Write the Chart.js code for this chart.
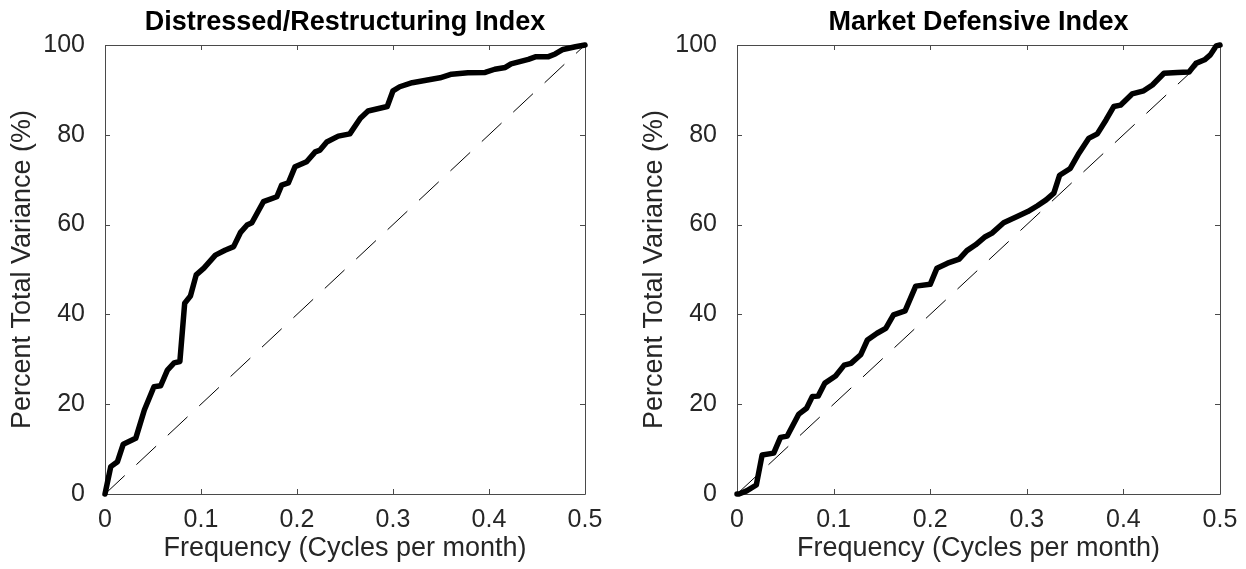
<!DOCTYPE html>
<html>
<head>
<meta charset="utf-8">
<script src="https://cdn.jsdelivr.net/npm/chart.js@4"></script>
<style>
    body { margin: 0; background: #fff; }
    .panel { position: absolute; top: 0; width: 623px; height: 569px; }
    #left { left: 0; }
    #right { left: 623px; }
</style>
</head>
<body>
<div class="panel" id="left"><canvas id="distChart" width="623" height="569"></canvas></div>
<div class="panel" id="right"><canvas id="defChart" width="623" height="569"></canvas></div>
<script>
"use strict";

// Cumulative periodogram, Distressed/Restructuring Index
const distFreq = [0, 0.006, 0.013, 0.019, 0.032, 0.041, 0.051, 0.058, 0.065, 0.072,
    0.078, 0.083, 0.089, 0.095, 0.103, 0.115, 0.125, 0.134, 0.141, 0.148,
    0.153, 0.165, 0.179, 0.184, 0.191, 0.198, 0.210, 0.219, 0.224, 0.231,
    0.243, 0.255, 0.266, 0.274, 0.294, 0.300, 0.307, 0.320, 0.333, 0.349,
    0.361, 0.378, 0.396, 0.406, 0.417, 0.423, 0.441, 0.449, 0.462, 0.469,
    0.477, 0.490, 0.500];
const distVar = [0, 6.1, 7.2, 11.1, 12.4, 18.7, 23.9, 24.1, 27.6, 29.2,
    29.5, 42.5, 44.1, 48.8, 50.3, 53.2, 54.3, 55.1, 58.2, 59.9,
    60.4, 65.1, 66.2, 68.8, 69.3, 72.9, 74.0, 76.2, 76.6, 78.4,
    79.7, 80.2, 83.7, 85.3, 86.3, 89.8, 90.7, 91.6, 92.1, 92.7,
    93.5, 93.8, 93.9, 94.6, 95.0, 95.8, 96.8, 97.4, 97.4, 98.0,
    99.0, 99.6, 100];

// Cumulative periodogram, Market Defensive Index
const defFreq = [0, 0.002, 0.010, 0.020, 0.026, 0.038, 0.045, 0.052, 0.064, 0.072,
    0.078, 0.084, 0.091, 0.102, 0.111, 0.118, 0.128, 0.135, 0.145, 0.154,
    0.162, 0.174, 0.185, 0.200, 0.207, 0.218, 0.230, 0.238, 0.247, 0.257,
    0.264, 0.276, 0.290, 0.301, 0.311, 0.320, 0.328, 0.334, 0.345, 0.354,
    0.364, 0.373, 0.382, 0.390, 0.397, 0.409, 0.421, 0.430, 0.442, 0.456,
    0.468, 0.475, 0.484, 0.490, 0.496, 0.500];
const defVar = [0, 0, 0.7, 2.0, 8.7, 9.1, 12.6, 12.9, 17.8, 19.1,
    21.7, 21.8, 24.7, 26.3, 28.7, 29.1, 31.0, 34.3, 35.8, 36.9,
    39.9, 40.8, 46.3, 46.7, 50.3, 51.4, 52.3, 54.2, 55.5, 57.3,
    58.1, 60.4, 61.8, 62.9, 64.2, 65.5, 67.0, 71.0, 72.5, 75.9,
    79.2, 80.2, 83.3, 86.3, 86.6, 89.1, 89.8, 91.1, 93.7, 93.9,
    94.0, 95.9, 96.7, 97.8, 99.8, 100];

// White-noise reference line
const refFreq = [0, 0.5];
const refVar = [0, 100];

const xTickLabels = ['0', '0.1', '0.2', '0.3', '0.4', '0.5'];
const yTickLabels = ['0', '20', '40', '60', '80', '100'];

const FONT = "'Liberation Sans', Arial, Helvetica, sans-serif";
const TEXT_COLOR = '#262626';
const AXIS_COLOR = '#4a4a4a';

// Box around the plot with ticks pointing inward on all four sides
const boxPlugin = {
    id: 'matlabBox',
    beforeDatasetsDraw(chart) {
        const { ctx, chartArea: a, scales } = chart;
        const len = 5;
        ctx.save();
        ctx.strokeStyle = AXIS_COLOR;
        ctx.lineWidth = 1;
        ctx.beginPath();
        ctx.rect(a.left + 0.5, a.top + 0.5, a.right - a.left, a.bottom - a.top);
        scales.x.ticks.forEach(t => {
            const px = Math.round(scales.x.getPixelForValue(t.value)) + 0.5;
            ctx.moveTo(px, a.bottom); ctx.lineTo(px, a.bottom - len);
            ctx.moveTo(px, a.top); ctx.lineTo(px, a.top + len);
        });
        scales.y.ticks.forEach(t => {
            const py = Math.round(scales.y.getPixelForValue(t.value)) + 0.5;
            ctx.moveTo(a.left, py); ctx.lineTo(a.left + len, py);
            ctx.moveTo(a.right, py); ctx.lineTo(a.right - len, py);
        });
        ctx.stroke();
        ctx.restore();
    }
};

function toPoints(xs, ys) {
    return xs.map((x, i) => ({ x: x, y: ys[i] }));
}

function createPanel(canvasId, title, freq, values, leftWidth, rightPad) {
    return new Chart(document.getElementById(canvasId), {
        type: 'line',
        data: {
            datasets: [{
                data: toPoints(freq, values),
                borderColor: '#000',
                borderWidth: 5.5,
                borderJoinStyle: 'round',
                borderCapStyle: 'round',
                pointRadius: 0,
                tension: 0,
                clip: false
            }, {
                data: toPoints(refFreq, refVar),
                borderColor: '#000',
                borderWidth: 1,
                borderDash: [27, 16],
                pointRadius: 0,
                tension: 0
            }]
        },
        options: {
            responsive: false,
            animation: false,
            layout: { padding: { left: 0, right: rightPad, top: 0, bottom: 0 } },
            plugins: {
                legend: { display: false },
                tooltip: { enabled: false },
                title: {
                    display: true,
                    fullSize: false, // centre over the plot area, as in the original
                    text: title,
                    color: '#000',
                    font: { family: FONT, size: 27, weight: 'bold', lineHeight: 1.2 },
                    padding: { top: 6, bottom: 6.6 }
                }
            },
            scales: {
                x: {
                    type: 'linear',
                    min: 0,
                    max: 0.5,
                    grid: { display: false },
                    border: { display: false },
                    ticks: {
                        stepSize: 0.1,
                        padding: 3,
                        color: TEXT_COLOR,
                        font: { family: FONT, size: 25 },
                        maxRotation: 0,
                        callback: (v, i) => xTickLabels[i]
                    },
                    title: {
                        display: true,
                        text: 'Frequency (Cycles per month)',
                        color: TEXT_COLOR,
                        font: { family: FONT, size: 27, lineHeight: 1.2 },
                        padding: { top: 0, bottom: 4 }
                    },
                    afterFit: s => { s.height = 75; }
                },
                y: {
                    type: 'linear',
                    min: 0,
                    max: 100,
                    grid: { display: false },
                    border: { display: false },
                    ticks: {
                        stepSize: 20,
                        padding: 12,
                        color: TEXT_COLOR,
                        font: { family: FONT, size: 25 },
                        callback: (v, i) => yTickLabels[i]
                    },
                    title: {
                        display: true,
                        text: 'Percent Total Variance (%)',
                        color: TEXT_COLOR,
                        font: { family: FONT, size: 27, lineHeight: 1.2 },
                        padding: { top: leftWidth - 98.2, bottom: 0 }
                    },
                    afterFit: s => { s.width = leftWidth; }
                }
            }
        },
        plugins: [boxPlugin]
    });
}

createPanel('distChart', 'Distressed/Restructuring Index', distFreq, distVar, 105, 38);
createPanel('defChart', 'Market Defensive Index', defFreq, defVar, 114, 26);
</script>
</body>
</html>
